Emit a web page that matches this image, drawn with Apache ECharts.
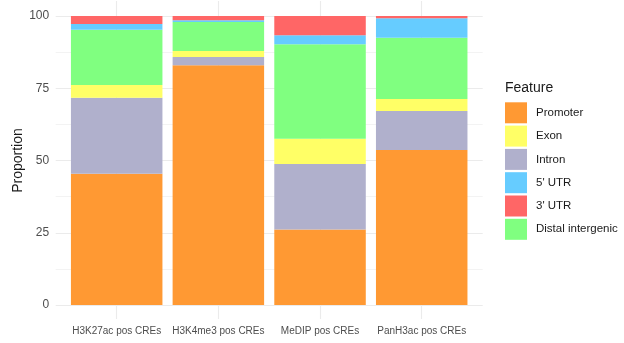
<!DOCTYPE html>
<html>
<head>
<meta charset="utf-8">
<script src="https://cdn.jsdelivr.net/npm/echarts@6/dist/echarts.min.js"></script>
<style>
  html, body { margin: 0; padding: 0; background: #fff; }
  #chart { width: 624px; height: 343px; }
</style>
</head>
<body>
<div id="chart"></div>
<script>
// Genomic feature composition (%) of each CRE set
const categories = ['H3K27ac pos CREs', 'H3K4me3 pos CREs', 'MeDIP pos CREs', 'PanH3ac pos CREs'];
const promoter = [45.4, 83.0, 26.1, 53.6];
const intron   = [26.3, 2.8, 22.7, 13.5];
const exon     = [4.4, 2.1, 8.7, 4.2];
const distal   = [19.1, 10.0, 32.7, 21.2];
const utr5     = [2.0, 0.6, 3.1, 6.7];
const utr3     = [2.8, 1.5, 6.7, 0.8];
const yTicks   = [0, 25, 50, 75, 100];
const legendOrder = ['Promoter', 'Exon', 'Intron', "5' UTR", "3' UTR", 'Distal intergenic'];

// stacked bottom to top
const layers = [
  { name: 'Promoter', data: promoter, color: '#FF9933' },
  { name: 'Intron', data: intron, color: '#B0B0CC' },
  { name: 'Exon', data: exon, color: '#FFFF66' },
  { name: 'Distal intergenic', data: distal, color: '#80FF80' },
  { name: "5' UTR", data: utr5, color: '#66CCFF' },
  { name: "3' UTR", data: utr3, color: '#FF6666' }
];

const gridColor = '#EBEBEB';
const font = 'Liberation Sans, Arial, sans-serif';

const chart = echarts.init(document.getElementById('chart'), null, { renderer: 'canvas' });

chart.setOption({
  animation: false,
  backgroundColor: '#ffffff',
  grid: [
    // bar area: one band per category
    { left: 65.85, width: 406.7, top: 16, height: 289 },
    // full panel (with side padding) for horizontal grid lines
    { left: 55.7, width: 427, top: 16, height: 289 }
  ],
  xAxis: [
    {
      type: 'category', gridIndex: 0, data: categories,
      axisLine: { show: false },
      axisTick: { show: true, interval: 0, alignWithLabel: true, inside: true, length: 304,
                  lineStyle: { color: gridColor, width: 1.1 } },
      axisLabel: { interval: 0, color: '#4D4D4D', fontSize: 10, fontFamily: font, margin: 21 },
      splitLine: { show: false }
    },
    {
      type: 'category', gridIndex: 0, data: categories, position: 'bottom',
      axisLine: { show: false },
      axisTick: { show: true, interval: 0, alignWithLabel: true, inside: false, length: 14,
                  lineStyle: { color: gridColor, width: 1.1 } },
      axisLabel: { show: false },
      splitLine: { show: false }
    },
    {
      type: 'value', gridIndex: 1, min: 0, max: 1, show: false
    }
  ],
  yAxis: [
    {
      type: 'value', gridIndex: 0, min: 0, max: 100, show: false,
      splitLine: { show: false }
    },
    {
      type: 'value', gridIndex: 1, min: 0, max: 100, interval: 25,
      axisLine: { show: false },
      axisTick: { show: false },
      axisLabel: {
        color: '#4D4D4D', fontSize: 12, fontFamily: font, margin: 6.5,
        formatter: v => (yTicks.includes(v) ? String(v) : '')
      },
      splitLine: { show: true, lineStyle: { color: gridColor, width: 1.1 } },
      minorTick: { show: false, splitNumber: 2 },
      minorSplitLine: { show: true, lineStyle: { color: gridColor, width: 0.6 } }
    }
  ],
  legend: {
    data: legendOrder,
    orient: 'vertical',
    left: 505, top: 102.3,
    padding: 0,
    itemWidth: 22, itemHeight: 21, itemGap: 2.3,
    icon: 'rect',
    textStyle: { color: '#1A1A1A', fontSize: 11.5, fontFamily: font, padding: [0, 0, 0, 4] }
  },
  graphic: [
    {
      type: 'text', x: 18, y: 160.5, rotation: Math.PI / 2,
      style: { text: 'Proportion', fontSize: 14, fontFamily: font, fill: '#1A1A1A',
               align: 'center', verticalAlign: 'middle' }
    },
    {
      type: 'text', left: 505, top: 81,
      style: { text: 'Feature', fontSize: 14, fontFamily: font, fill: '#1A1A1A' }
    }
  ],
  series: layers.map(l => ({
    name: l.name,
    type: 'bar',
    stack: 'feature',
    xAxisIndex: 0, yAxisIndex: 0,
    barWidth: 91.5,
    itemStyle: { color: l.color },
    data: l.data
  }))
});
</script>
</body>
</html>
